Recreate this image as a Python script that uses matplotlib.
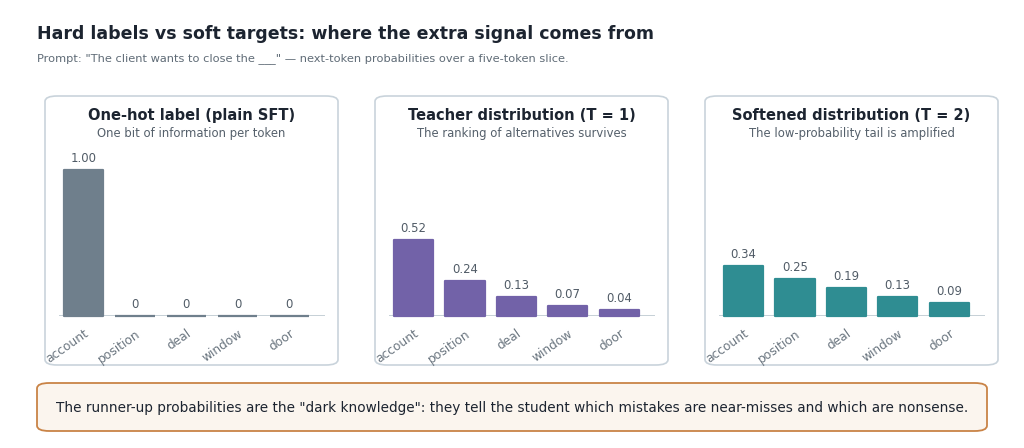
import numpy as np
import matplotlib.pyplot as plt
from matplotlib.patches import FancyBboxPatch

plt.rcParams["font.family"] = ["DejaVu Sans"]

tokens = ["account", "position", "deal", "window", "door"]
onehot = [1.00, 0, 0, 0, 0]
teacher = [0.52, 0.24, 0.13, 0.07, 0.04]
soft = [0.34, 0.25, 0.19, 0.13, 0.09]

panel_titles = ["One-hot label (plain SFT)",
                "Teacher distribution (T = 1)",
                "Softened distribution (T = 2)"]
panel_subs = ["One bit of information per token",
              "The ranking of alternatives survives",
              "The low-probability tail is amplified"]
series = [onehot, teacher, soft]
colors = ["#6f7f8c", "#7262a8", "#2f8d92"]

W, H = 1024, 448
fig = plt.figure(figsize=(W / 100, H / 100), dpi=100)
fig.patch.set_facecolor("white")

def fx(px):
    return px / W

def fy(py):
    return 1 - py / H

fig.text(fx(37), fy(34), "Hard labels vs soft targets: where the extra signal comes from",
         fontsize=12.5, fontweight="bold", color="#1c2430", va="center")
fig.text(fx(37), fy(59), 'Prompt: "The client wants to close the ___" \u2014 next-token probabilities over a five-token slice.',
         fontsize=8.2, color="#5f6b76", va="center")

for i in range(3):
    off = 330 * i
    box = FancyBboxPatch((fx(45 + off), fy(365)), fx(293), 269 / H,
                         boxstyle="round,pad=0,rounding_size=0.012",
                         transform=fig.transFigure, facecolor="white",
                         edgecolor="#c9d3db", linewidth=1.2, zorder=-5)
    fig.patches.append(box)
    cx = 45 + off + 293 / 2
    fig.text(fx(cx), fy(115), panel_titles[i], fontsize=10.5, fontweight="bold",
             color="#1c2430", ha="center", va="center")
    fig.text(fx(cx), fy(134), panel_subs[i], fontsize=8.4, color="#55606b",
             ha="center", va="center")

    ax = fig.add_axes([fx(59 + off), fy(316), fx(266), 168 / H])
    ax.patch.set_alpha(0)
    x = np.arange(len(tokens))
    vals = series[i]
    ax.bar(x, vals, width=0.76, color=colors[i], edgecolor=colors[i],
           linewidth=1.6, joinstyle="round", zorder=2)
    for xi, v in zip(x, vals):
        lab = "0" if v == 0 else "{:.2f}".format(v)
        ax.text(xi, v + 0.035, lab, ha="center", va="bottom", fontsize=8.4, color="#505b66")
    ax.set_xlim(-0.48, 4.7)
    ax.set_ylim(0, 1.15)
    ax.set_clip_on(False)
    ax.axhline(0, color="#bcc8d0", linewidth=1.2, zorder=1)
    for s in ax.spines.values():
        s.set_visible(False)
    ax.set_yticks([])
    ax.set_xticks(x)
    ax.set_xticklabels(tokens, rotation=35, ha="right", rotation_mode="anchor",
                       fontsize=8.8, color="#6b7680")
    ax.tick_params(axis="x", length=0, pad=8)
    for bar in ax.patches:
        bar.set_clip_on(False)

note = FancyBboxPatch((fx(37), fy(431)), fx(950), 48 / H,
                      boxstyle="round,pad=0,rounding_size=0.012",
                      transform=fig.transFigure, facecolor="#fbf5ee",
                      edgecolor="#c98346", linewidth=1.3, zorder=-5)
fig.patches.append(note)
fig.text(fx(512), fy(408),
         'The runner-up probabilities are the "dark knowledge": they tell the student which mistakes are near-misses and which are nonsense.',
         fontsize=9.8, color="#1c2430", ha="center", va="center")

fig.savefig("out.png", dpi=100)
